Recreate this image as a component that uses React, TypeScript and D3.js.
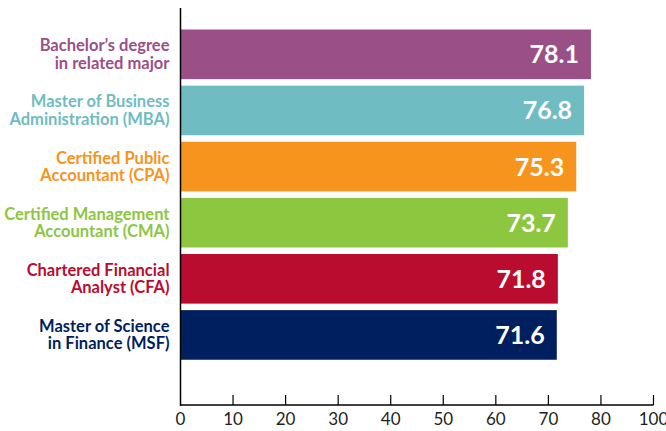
import React from "react";
import * as d3 from "d3";

const categories: string[][] = [
  ["Bachelor’s degree", "in related major"],
  ["Master of Business", "Administration (MBA)"],
  ["Certified Public", "Accountant (CPA)"],
  ["Certified Management", "Accountant (CMA)"],
  ["Chartered Financial", "Analyst (CFA)"],
  ["Master of Science", "in Finance (MSF)"],
];
const values: number[] = [78.1, 76.8, 75.3, 73.7, 71.8, 71.6];
const colors: string[] = ["#9B4F87", "#6FBCC3", "#F7941D", "#8DC63F", "#BA0C2F", "#001F5F"];
const tickValues: number[] = [0, 10, 20, 30, 40, 50, 60, 70, 80, 90];
const tickLabels: string[] = ["0", "10", "20", "30", "40", "50", "60", "70", "80", "100"];

export default function App() {
  const W = 666, H = 431;
  const x = d3.scaleLinear().domain([0, 90]).range([180.5, 653.5]);
  const y = d3
    .scaleBand<number>()
    .domain(d3.range(values.length))
    .range([26.25, 363])
    .paddingInner(0.116)
    .paddingOuter(0.058);
  const axisY = 405;
  const font = "Lato, 'Open Sans', sans-serif";
  return (
    <svg width={W} height={H} style={{ position: "absolute", left: 0, top: 0 }}>
      <rect width={W} height={H} fill="#fff" />
      {values.map((v, i) => {
        const y0 = y(i)!;
        const bh = y.bandwidth();
        const cy = y0 + bh / 2;
        return (
          <g key={i}>
            <rect x={x(0)} y={y0} width={x(v) - x(0)} height={bh} fill={colors[i]} />
            <text
              x={x(v) - 12}
              y={cy + 9}
              textAnchor="end"
              fill="#fff"
              fontFamily={font}
              fontWeight={700}
              fontSize={25}
            >
              {v.toFixed(1)}
            </text>
            <text
              x={169.5}
              textAnchor="end"
              fill={colors[i]}
              fontFamily={font}
              fontWeight={700}
              fontSize={16.5}
            >
              <tspan x={169.5} y={cy - 3}>{categories[i][0]}</tspan>
              <tspan x={169.5} y={cy + 14.5}>{categories[i][1]}</tspan>
            </text>
          </g>
        );
      })}
      <line x1={x(0)} x2={x(0)} y1={8} y2={axisY + 1} stroke="#000" strokeWidth={1.5} />
      <line x1={x(0)} x2={x(90)} y1={axisY} y2={axisY} stroke="#000" strokeWidth={1.5} />
      {tickValues.map((t, i) => (
        <g key={t}>
          {i > 0 && (
            <line x1={x(t)} x2={x(t)} y1={axisY - 10} y2={axisY} stroke="#000" strokeWidth={1.2} />
          )}
          <text
            x={x(t)}
            y={425}
            textAnchor="middle"
            fill="#231F20"
            fontFamily={font}
            fontSize={17}
          >
            {tickLabels[i]}
          </text>
        </g>
      ))}
    </svg>
  );
}
